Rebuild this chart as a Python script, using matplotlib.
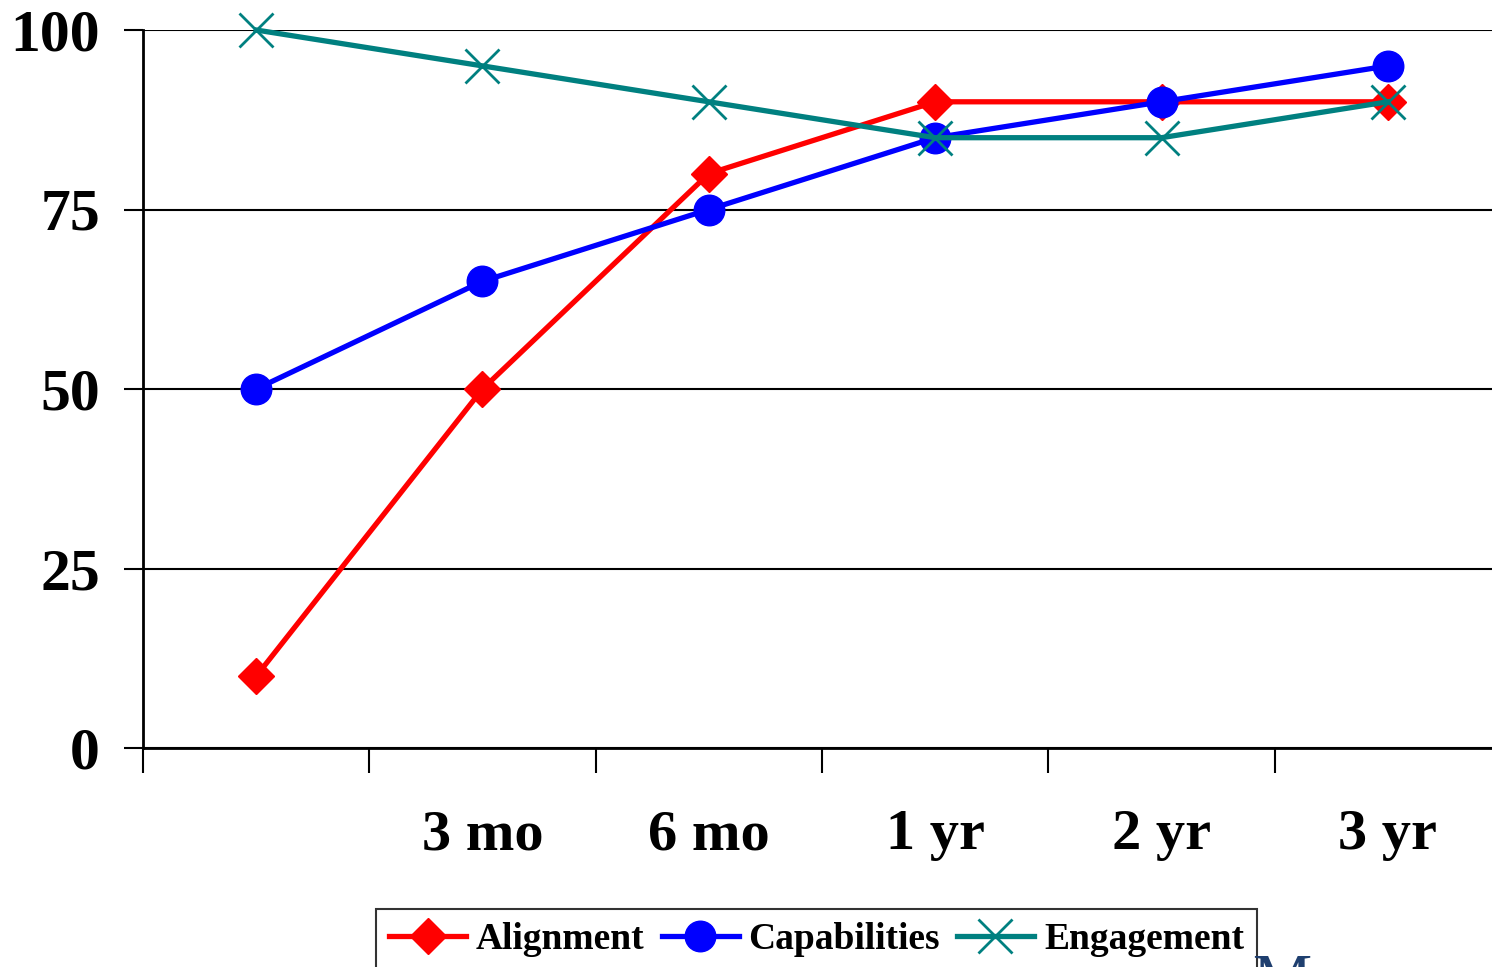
import matplotlib.pyplot as plt
import numpy as np

# Data
categories = ['', '3 mo', '6 mo', '1 yr', '2 yr', '3 yr']
alignment = [10, 50, 80, 90, 90, 90]
capabilities = [50, 65, 75, 85, 90, 95]
engagement = [100, 95, 90, 85, 85, 90]
y_ticks = [0, 25, 50, 75, 100]

plt.rcParams['font.family'] = ['Liberation Serif', 'DejaVu Serif']
plt.rcParams['font.weight'] = 'bold'

fig = plt.figure(figsize=(14.92, 9.67), dpi=100)
ax = fig.add_axes([143 / 1492, 1 - 748 / 967, 1358 / 1492, 718 / 967])

x = np.arange(len(categories))
ax.plot(x, alignment, color='#FF0000', lw=3.8, marker='D', ms=18,
        label='Alignment', zorder=3, clip_on=False)
ax.plot(x, capabilities, color='#0000FF', lw=3.8, marker='o', ms=22,
        label='Capabilities', zorder=4, clip_on=False)
ax.plot(x, engagement, color='#008080', lw=3.8, marker='x', ms=24, mew=2,
        label='Engagement', zorder=5, clip_on=False)

ax.set_xlim(-0.5, len(categories) - 0.5)
ax.set_ylim(0, 100)

# gridlines
ax.set_yticks(y_ticks)
ax.set_yticklabels([str(v) for v in y_ticks], fontsize=43, fontweight='bold')
ax.yaxis.grid(True, color='black', lw=1.5)
ax.tick_params(axis='y', length=14, width=1.5, pad=17, direction='out')

# category labels centred, tick marks at category boundaries
ax.set_xticks(x)
ax.set_xticklabels(categories, fontsize=42, fontweight='bold')
ax.tick_params(axis='x', length=0, pad=44)
ax.set_xticks(np.arange(-0.5, len(categories)), minor=True)
ax.tick_params(axis='x', which='minor', length=18, width=1.5, direction='out')

for side in ['top', 'right']:
    ax.spines[side].set_visible(False)
for side in ['left', 'bottom']:
    ax.spines[side].set_linewidth(2)
ax.set_axisbelow(True)

leg = fig.legend(loc='upper left', bbox_to_anchor=(376 / 1492, 1 - 909 / 967),
                 ncol=3, fontsize=27, frameon=True, fancybox=False,
                 edgecolor='black', handlelength=2.05, handletextpad=0.27,
                 columnspacing=0.45, borderpad=0.35, borderaxespad=0)
leg.get_frame().set_linewidth(1.5)
for t in leg.get_texts():
    t.set_fontweight('bold')

# partially visible logo text at the bottom edge
fig.text(1252 / 1492, 1 - 952 / 967, 'Me', color='#1F3F6F', fontsize=48,
         va='top', ha='left', fontweight='normal', zorder=10)

fig.savefig('out.png', dpi=100)
